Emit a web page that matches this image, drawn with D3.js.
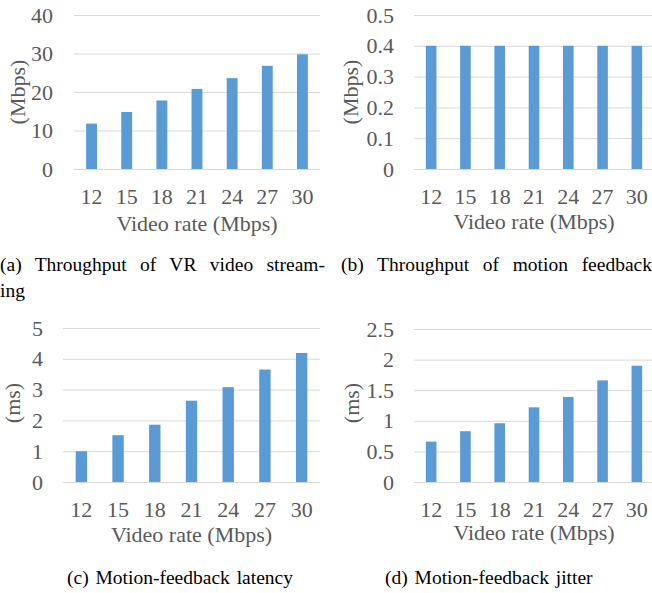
<!DOCTYPE html>
<html>
<head>
<meta charset="utf-8">
<script src="https://cdn.jsdelivr.net/npm/d3@7"></script>
<style>
  html, body { margin: 0; padding: 0; background: #fff; }
  svg { display: block; }
</style>
</head>
<body>
<svg id="chart" width="652" height="593"></svg>
<script>
// ---- data ----
const categories = ["12", "15", "18", "21", "24", "27", "30"];
const throughputVR = [11.8, 14.8, 17.8, 20.8, 23.6, 26.8, 29.8];
const throughputMotion = [0.4, 0.4, 0.4, 0.4, 0.4, 0.4, 0.4];
const latency = [1.0, 1.52, 1.86, 2.64, 3.08, 3.65, 4.19];
const jitter = [0.66, 0.83, 0.96, 1.22, 1.39, 1.66, 1.90];

const ticksA = [0, 10, 20, 30, 40];
const ticksB = [0, 0.1, 0.2, 0.3, 0.4, 0.5];
const ticksC = [0, 1, 2, 3, 4, 5];
const ticksD = [0, 0.5, 1, 1.5, 2, 2.5];

const xTitle = "Video rate (Mbps)";
const yTitles = ["(Mbps)", "(Mbps)", "(ms)", "(ms)"];
const captions = [
  ["(a) Throughput of VR video stream-", "ing"],
  ["(b) Throughput of motion feedback"],
  ["(c) Motion-feedback latency"],
  ["(d) Motion-feedback jitter"]
];

// ---- layout ----
const svg = d3.select("#chart");
const BAR = "#5b9bd5", GRID = "#d9d9d9", TXT = "#595959";
const FONT = "Liberation Serif, Times New Roman, Times, Tinos, DejaVu Serif, serif";

const panels = [
  { values: throughputVR, ticks: ticksA, max: 40, x0: 74, x1: 320, y0: 169, y1: 15,
    pad: 21, yTitle: yTitles[0], yTitleX: 25, yTitleY: 92, xTitleY: 231 },
  { values: throughputMotion, ticks: ticksB, max: 0.5, x0: 414, x1: 654, y0: 169, y1: 15,
    pad: 20, yTitle: yTitles[1], yTitleX: 358, yTitleY: 92, xTitleY: 229 },
  { values: latency, ticks: ticksC, max: 5, x0: 63, x1: 320, y0: 482, y1: 328,
    pad: 20, yTitle: yTitles[2], yTitleX: 20, yTitleY: 403, xTitleY: 542 },
  { values: jitter, ticks: ticksD, max: 2.5, x0: 414, x1: 654, y0: 482, y1: 329,
    pad: 20, yTitle: yTitles[3], yTitleX: 359, yTitleY: 403, xTitleY: 540 }
];

panels.forEach(p => {
  const x = d3.scaleBand().domain(categories).range([p.x0, p.x1])
    .paddingInner(0.69).paddingOuter(0.345);
  const y = d3.scaleLinear().domain([0, p.max]).range([p.y0, p.y1]);
  const g = svg.append("g");

  // y axis with gridlines
  const ya = g.append("g").attr("transform", `translate(${p.x0},0)`)
    .call(d3.axisLeft(y).tickValues(p.ticks).tickFormat(d => String(d))
      .tickSize(-(p.x1 - p.x0)).tickPadding(p.pad));
  ya.attr("font-family", null).attr("font-size", null);
  ya.select(".domain").remove();
  ya.selectAll(".tick line").attr("stroke", GRID).attr("stroke-width", 1);
  ya.selectAll(".tick text").attr("fill", TXT)
    .style("font-family", FONT).style("font-size", "22px");

  // bars
  g.append("g").selectAll("rect").data(p.values).join("rect")
    .attr("x", (d, i) => x(categories[i]))
    .attr("width", x.bandwidth())
    .attr("y", d => y(d))
    .attr("height", d => y(0) - y(d))
    .attr("fill", BAR);

  // x axis
  const xa = g.append("g").attr("transform", `translate(0,${p.y0})`)
    .call(d3.axisBottom(x).tickSize(0).tickPadding(19));
  xa.attr("font-family", null).attr("font-size", null);
  xa.select(".domain").remove();
  xa.selectAll(".tick text").attr("fill", TXT)
    .style("font-family", FONT).style("font-size", "22px");

  // axis titles
  g.append("text").attr("x", (p.x0 + p.x1) / 2).attr("y", p.xTitleY)
    .attr("text-anchor", "middle").attr("fill", TXT)
    .style("font-family", FONT).style("font-size", "22px")
    .text(xTitle);
  g.append("text")
    .attr("transform", `translate(${p.yTitleX},${p.yTitleY}) rotate(-90)`)
    .attr("text-anchor", "middle").attr("fill", TXT)
    .style("font-family", FONT).style("font-size", "22px")
    .text(p.yTitle);
});

// captions (first-row lines justified via word spacing)
const capSpecs = [
  { x: 0, y: 271, len: 325 }, { x: 0, y: 297, len: null },
  { x: 341, y: 271, len: 311 },
  { x: 67, y: 584, len: null },
  { x: 385, y: 584, len: null }
];
const capLines = [captions[0][0], captions[0][1], captions[1][0], captions[2][0], captions[3][0]];
capLines.forEach((t, i) => {
  const s = capSpecs[i];
  const el = svg.append("text").attr("x", s.x).attr("y", s.y)
    .attr("fill", "#000")
    .style("font-family", FONT).style("font-size", "19.5px")
    .text(t);
  if (s.len) {
    const natural = el.node().getComputedTextLength();
    const spaces = (t.match(/ /g) || []).length;
    const ws = (s.len - natural) / spaces;
    if (ws < 0) {
      el.attr("textLength", s.len).attr("lengthAdjust", "spacing");
    } else {
      el.style("word-spacing", ws + "px");
    }
  } else if (i > 2) {
    el.style("word-spacing", "2px");
  }
});
</script>
</body>
</html>
